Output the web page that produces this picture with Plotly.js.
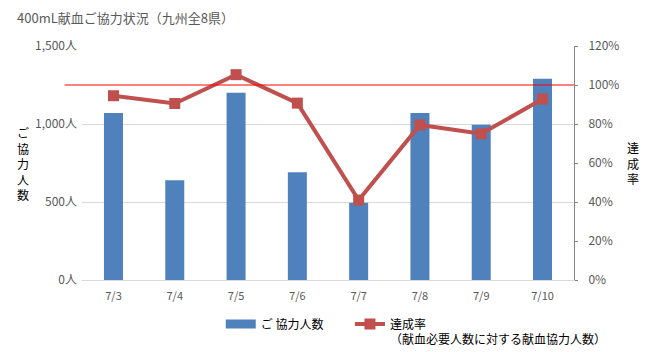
<!DOCTYPE html>
<html><head><meta charset="utf-8">
<script src="https://cdn.plot.ly/plotly-3.0.1.min.js"></script>
<style>html,body{margin:0;padding:0;background:#fff;}#chart{width:659px;height:352px;}</style>
</head><body><div id="chart"></div>
<script>
const dates = ["7/3","7/4","7/5","7/6","7/7","7/8","7/9","7/10"];
const donors = [1070, 640, 1200, 690, 495, 1070, 995, 1290];
const rate = [94.5, 90.5, 105.3, 90.7, 41, 79.5, 75, 92.8];
const target = 100;
const leftTicks = [0, 500, 1000, 1500];
const leftTickText = ["0人", "500人", "1,000人", "1,500人"];
const rightTicks = [0, 20, 40, 60, 80, 100, 120];
const rightTickText = ["0%", "20%", "40%", "60%", "80%", "100%", "120%"];

const FONT = '"Noto Sans CJK JP", "Noto Sans", sans-serif';
const gray = '#595959';

const traces = [
  {type:'bar', x:dates, y:donors, name:'ご 協力人数', marker:{color:'#4F81BD'}, yaxis:'y', showlegend:false},
  {type:'scatter', mode:'lines', x:[null], y:[null], name:'ご 協力人数&nbsp;&nbsp;&nbsp;&nbsp;&nbsp;&nbsp;&nbsp;&nbsp;', line:{color:'#4F81BD', width:9}, yaxis:'y', hoverinfo:'skip'},
  {type:'scatter', mode:'lines+markers', x:dates, y:rate, yaxis:'y2',
   name:'達成率<br>（献血必要人数に対する献血協力人数）',
   line:{color:'#C0504D', width:4}, marker:{symbol:'square', size:11, color:'#C0504D'}}
];

const layout = {
  width:659, height:352,
  margin:{l:82, r:85, t:46, b:72},
  paper_bgcolor:'#fff', plot_bgcolor:'#fff',
  font:{family:FONT, size:12, color:gray},
  showlegend:true,
  bargap:0.69,
  xaxis:{type:'category', categoryarray:dates, tickfont:{size:11, color:gray}, showgrid:false, showline:true, linecolor:'#d9d9d9', ticks:'', ticklabelstandoff:6},
  yaxis:{range:[0,1500], tickmode:'array', tickvals:leftTicks, ticktext:leftTickText, gridcolor:'#d9d9d9', zeroline:false, showline:false, tickfont:{size:12, color:gray}, ticks:'', ticklabelstandoff:4},
  yaxis2:{range:[0,120], overlaying:'y', side:'right', tickmode:'array', tickvals:rightTicks, ticktext:rightTickText, showgrid:false, zeroline:false, showline:true, linecolor:'#868686', ticks:'outside', ticklen:3, tickcolor:'#868686', tickfont:{size:12, color:gray}, ticklabelstandoff:8},
  legend:{orientation:'h', xref:'container', yref:'container', x:0.335, y:0.12, xanchor:'left', yanchor:'top', valign:'top', font:{size:12, color:'#000'}, tracegroupgap:0},
  shapes:[{type:'line', xref:'paper', yref:'y2', x0:-0.035, x1:1, y0:target, y1:target, line:{color:'rgb(255,0,0)', width:1}, layer:'above'}],
  annotations:[
    {text:'400mL献血ご協力状況（九州全8県）', xref:'paper', yref:'paper', x:-0.137, y:1.12, xanchor:'left', yanchor:'middle', showarrow:false, font:{size:13, color:gray}},
    {text:'ご<br>協<br>力<br>人<br>数', xref:'paper', yref:'paper', x:-0.12, y:0.5, xanchor:'center', yanchor:'middle', showarrow:false, font:{size:12, color:'#000'}},
    {text:'達<br>成<br>率', xref:'paper', yref:'paper', x:1.12, y:0.5, xanchor:'center', yanchor:'middle', showarrow:false, font:{size:12, color:'#000'}}
  ]
};
Plotly.newPlot('chart', traces, layout, {displayModeBar:false, staticPlot:true});
</script></body></html>
